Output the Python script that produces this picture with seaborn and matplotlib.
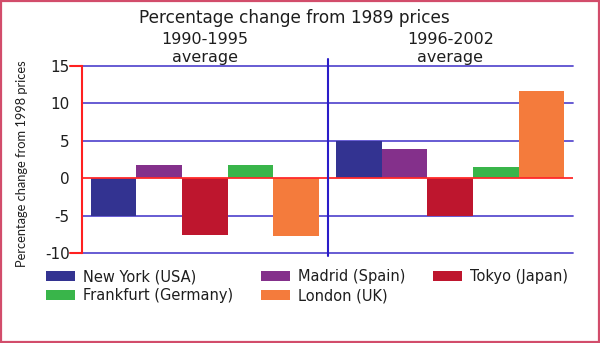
import matplotlib
matplotlib.use("Agg")
import matplotlib.pyplot as plt
import matplotlib.transforms as mtransforms
import seaborn as sns
import pandas as pd
from matplotlib.patches import Rectangle, Patch

# ---- data ----
periods = ["1990-1995\naverage", "1996-2002\naverage"]
cities = ["New York (USA)", "Madrid (Spain)", "Tokyo (Japan)",
          "Frankfurt (Germany)", "London (UK)"]
new_york = [-5.0, 5.0]
madrid = [1.7, 3.9]
tokyo = [-7.6, -5.0]
frankfurt = [1.8, 1.5]
london = [-7.7, 11.6]
colors = ["#333391", "#84308b", "#be162e", "#39b54a", "#f47b3c"]
yticks = [-10, -5, 0, 5, 10, 15]
grid_levels = [15, 10, 5, -5, -10]

sns.set_theme(style="white")
plt.rcParams["font.family"] = ["DejaVu Sans"]
txt = "#1e1e1e"

rows = []
for city, vals in zip(cities, [new_york, madrid, tokyo, frankfurt, london]):
    for p, v in zip(periods, vals):
        rows.append({"period": p, "city": city, "value": v})
df = pd.DataFrame(rows)

W, H = 600, 343
fig = plt.figure(figsize=(6, 3.43), dpi=100)
ax = fig.add_axes([82 / W, 1 - 253 / H, (573 - 82) / W, (253 - 66) / H])

sns.barplot(data=df, x="period", y="value", hue="city", order=periods,
            hue_order=cities, palette=colors, width=0.93, saturation=1,
            linewidth=0, legend=False, ax=ax, zorder=2)

ax.set_xlim(-0.5, 1.5)
ax.set_ylim(min(yticks), max(yticks))

for g in grid_levels:
    ax.axhline(g, color="#5a4ed0", lw=1.3, zorder=1, clip_on=False)
ax.axhline(0, color="#ff2a2a", lw=1.3, zorder=3)
# divider between the two periods
ax.plot([0.5, 0.5], [15.9, -10.4], color="#2a1cc8", lw=1.5,
        clip_on=False, zorder=4)

for s in ["top", "right", "bottom"]:
    ax.spines[s].set_visible(False)
ax.spines["left"].set_color("#ff2020")
ax.spines["left"].set_linewidth(1.5)
ax.spines["left"].set_zorder(5)

# small red end ticks
tr = mtransforms.blended_transform_factory(ax.transAxes, ax.transData)
for yv in [max(yticks), min(yticks)]:
    ax.plot([-0.024, 0], [yv, yv], color="#ff2020", lw=1.5,
            transform=tr, clip_on=False)

ax.set_yticks(yticks)
ax.set_yticklabels([str(t) for t in yticks])
ax.tick_params(axis="y", length=0, pad=9, labelsize=11, labelcolor=txt)
ax.xaxis.tick_top()
ax.tick_params(axis="x", length=0, pad=1, labelsize=11.5, labelcolor=txt)
ax.set_xlabel("")
ax.set_ylabel("")

fig.text(22 / W, 1 - 164 / H, "Percentage change from 1998 prices",
         rotation=90, ha="center", va="center", fontsize=9.3,
         family=["Lato", "DejaVu Sans"], color=txt)
fig.text(294 / W, 1 - 18 / H, "Percentage change from 1989 prices",
         ha="center", va="center", fontsize=12.2, color=txt)

order = [0, 3, 1, 4, 2]
handles = [Patch(facecolor=colors[i], edgecolor="none") for i in order]
labels = [cities[i] for i in order]
fig.legend(handles, labels, loc="upper left",
           bbox_to_anchor=(46 / W, 1 - 269 / H), ncol=3, frameon=False,
           fontsize=10.5, handlelength=2.0, handleheight=0.65,
           handletextpad=0.55, columnspacing=1.9, labelspacing=0.3,
           borderpad=0, borderaxespad=0, labelcolor=txt)

fig.add_artist(Rectangle((0.002, 0.003), 0.996, 0.994,
                         transform=fig.transFigure, fill=False,
                         edgecolor="#d24d6b", lw=1.6))

fig.savefig("out.png", dpi=100)
